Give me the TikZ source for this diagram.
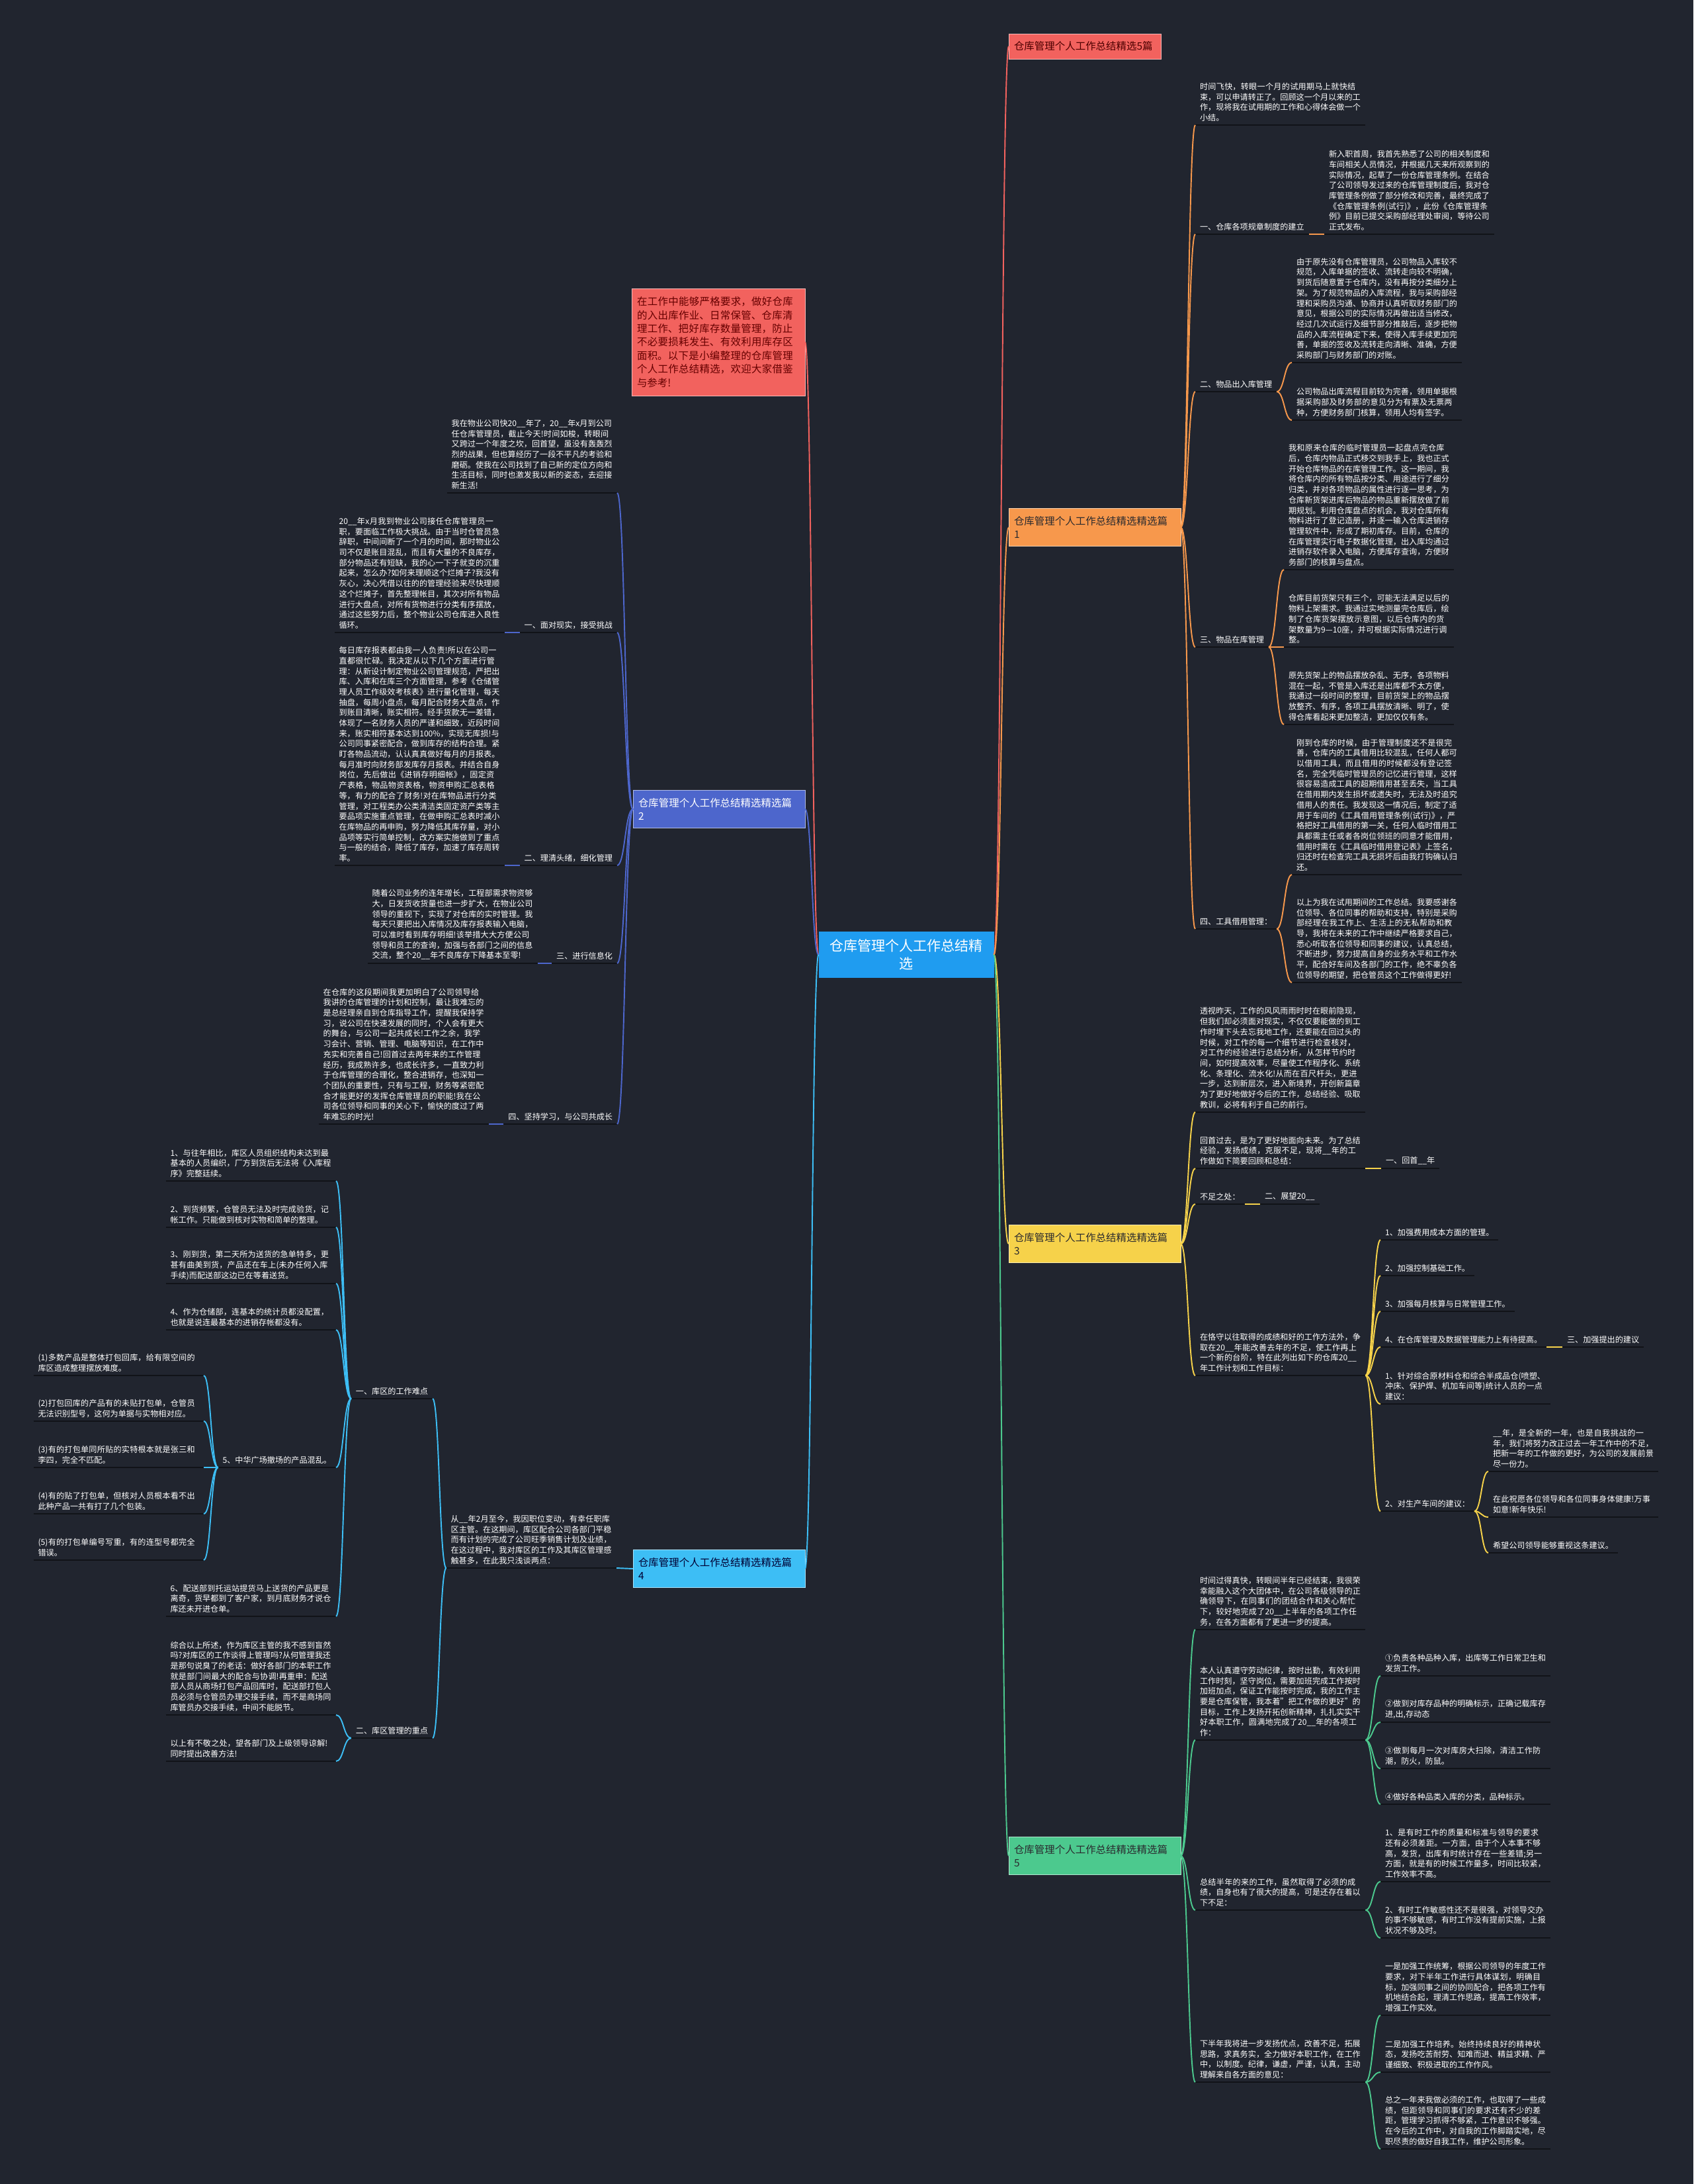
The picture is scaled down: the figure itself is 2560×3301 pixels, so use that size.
\documentclass[tikz,border=0pt]{standalone}
\usepackage{fontspec}
\setmainfont{Noto Sans CJK SC}
\usetikzlibrary{calc}
\XeTeXlinebreaklocale "zh"
\XeTeXlinebreakskip=0pt plus 0.5pt

\definecolor{bgc}{HTML}{21252F}
\definecolor{ulc}{HTML}{111318}
\definecolor{cred}{HTML}{F2625E}
\definecolor{corange}{HTML}{F7984C}
\definecolor{cyellow}{HTML}{F6D24A}
\definecolor{cgreen}{HTML}{4CC98E}
\definecolor{cindigo}{HTML}{4D66CC}
\definecolor{csky}{HTML}{3DBEF5}
\definecolor{croot}{HTML}{1F9CF0}
\definecolor{darktxt}{HTML}{2A2A2E}

\newcommand{\mmbody}{\fontsize{6.9}{8.93}\selectfont}
\newcommand{\mmtopic}{\fontsize{8.8}{11.6}\selectfont}
\newcommand{\mmroot}{\fontsize{12}{15}\selectfont}

\begin{document}
\begin{tikzpicture}[x=0.2mm,y=-0.2mm,
  txt/.style={font=\mmbody,text=white,align=left,inner xsep=1.4mm,inner ysep=1.1mm,outer sep=0pt},
  blk/.style={txt,text width=138.5pt},
  rt/.style={anchor=south west},
  lt/.style={anchor=south east},
  topic/.style={font=\mmtopic,align=left,inner xsep=1.6mm,text width=48.8mm,minimum height=11.4mm,
    outer sep=0pt,fill=#1,draw=white!55!#1,line width=0.4pt,text=darktxt},
  link/.style={line width=1.1pt,to path={.. controls ($(\tikztostart)!0.5!(\tikztotarget|-\tikztostart)$)
    and ($(\tikztotarget)!0.5!(\tikztostart|-\tikztotarget)$) .. (\tikztotarget)}},
  uline/.style={line width=1.1pt,ulc}]
\useasboundingbox (0,0) rectangle (2560,3301);
\fill[bgc] (0,0) rectangle (2560,3301);

% centre and main topics
\node[fill=croot,text=white,font=\mmroot,align=center,minimum width=53mm,minimum height=14mm,outer sep=0pt]
  (root) at (1370,1443) {仓库管理个人工作总结精\\选};
\node[topic=cred,anchor=west,text width=42.8mm,minimum height=7.6mm,text=red!30!black] (b0) at (1525,70) {仓库管理个人工作总结精选5篇};
\node[topic=corange,anchor=west] (b1) at (1525,797) {仓库管理个人工作总结精选精选篇\\1};
\node[topic=cyellow,anchor=west] (b3) at (1525,1880) {仓库管理个人工作总结精选精选篇\\3};
\node[topic=cgreen,anchor=west] (b5) at (1525,2805) {仓库管理个人工作总结精选精选篇\\5};
\node[topic=cred,anchor=east,text width=49.2mm,minimum height=32.4mm,text=red!40!black] (intro) at (1217,517)
  {在工作中能够严格要求，做好仓库的入出库作业、日常保管、仓库清理工作、把好库存数量管理，防止不必要损耗发生、有效利用库存区面积。以下是小编整理的仓库管理个人工作总结精选，欢迎大家借鉴与参考!};
\node[topic=cindigo,anchor=east,text=white] (b2) at (1217,1223) {仓库管理个人工作总结精选精选篇\\2};
\node[topic=csky,anchor=east,text=blue!20!black] (b4) at (1217,2371) {仓库管理个人工作总结精选精选篇\\4};

% branch 1
\begin{scope}
\node[blk,rt] (r1a) at (1807,189) {时间飞快，转眼一个月的试用期马上就快结束，可以申请转正了。回顾这一个月以来的工作，现将我在试用期的工作和心得体会做一个小结。};
\node[txt,rt] (r1b) at (1807,354) {一、仓库各项规章制度的建立};
\node[blk,rt] (r1b1) at (2002,354) {新入职首周，我首先熟悉了公司的相关制度和车间相关人员情况，并根据几天来所观察到的实际情况，起草了一份仓库管理条例。在结合了公司领导发过来的仓库管理制度后，我对仓库管理条例做了部分修改和完善，最终完成了《仓库管理条例(试行)》，此份《仓库管理条例》目前已提交采购部经理处审阅，等待公司正式发布。};
\node[txt,rt] (r1c) at (1807,592) {二、物品出入库管理};
\node[blk,rt] (r1c1) at (1953,548) {由于原先没有仓库管理员，公司物品入库较不规范，入库单据的签收、流转走向较不明确，到货后随意置于仓库内，没有再按分类细分上架。为了规范物品的入库流程，我与采购部经理和采购员沟通、协商并认真听取财务部门的意见，根据公司的实际情况再做出适当修改，经过几次试运行及细节部分推敲后，逐步把物品的入库流程确定下来，使得入库手续更加完善，单据的签收及流转走向清晰、准确，方便采购部门与财务部门的对账。};
\node[blk,rt] (r1c2) at (1953,635) {公司物品出库流程目前较为完善，领用单据根据采购部及财务部的意见分为有票及无票两种，方便财务部门核算，领用人均有签字。};
\node[txt,rt] (r1d) at (1807,978) {三、物品在库管理};
\node[blk,rt] (r1d1) at (1941,861) {我和原来仓库的临时管理员一起盘点完仓库后，仓库内物品正式移交到我手上，我也正式开始仓库物品的在库管理工作。这一期间，我将仓库内的所有物品按分类、用途进行了细分归类，并对各项物品的属性进行逐一思考，为仓库新货架进库后物品的物品重新摆放做了前期规划。利用仓库盘点的机会，我对仓库所有物料进行了登记造册，并逐一输入仓库进销存管理软件中，形成了期初库存。目前，仓库的在库管理实行电子数据化管理，出入库均通过进销存软件录入电脑，方便库存查询，方便财务部门的核算与盘点。};
\node[blk,rt] (r1d2) at (1941,978) {仓库目前货架只有三个，可能无法满足以后的物料上架需求。我通过实地测量完仓库后，绘制了仓库货架摆放示意图，以后仓库内的货架数量为9—10座，并可根据实际情况进行调整。};
\node[blk,rt] (r1d3) at (1941,1095) {原先货架上的物品摆放杂乱、无序，各项物料混在一起，不管是入库还是出库都不太方便，我通过一段时间的整理，目前货架上的物品摆放整齐、有序，各项工具摆放清晰、明了，使得仓库看起来更加整洁，更加仅仅有条。};
\node[txt,rt] (r1e) at (1807,1404) {四、工具借用管理：};
\node[blk,rt] (r1e1) at (1953,1322) {刚到仓库的时候，由于管理制度还不是很完善，仓库内的工具借用比较混乱，任何人都可以借用工具，而且借用的时候都没有登记签名，完全凭临时管理员的记忆进行管理，这样很容易造成工具的超期借用甚至丢失，当工具在借用期内发生损坏或遗失时，无法及时追究借用人的责任。我发现这一情况后，制定了适用于车间的《工具借用管理条例(试行)》，严格把好工具借用的第一关，任何人临时借用工具都需主任或者各岗位领班的同意才能借用，借用时需在《工具临时借用登记表》上签名，归还时在检查完工具无损坏后由我打钩确认归还。};
\node[blk,rt] (r1e2) at (1953,1485) {以上为我在试用期间的工作总结。我要感谢各位领导、各位同事的帮助和支持，特别是采购部经理在我工作上、生活上的无私帮助和教导，我将在未来的工作中继续严格要求自己，悉心听取各位领导和同事的建议，认真总结，不断进步，努力提高自身的业务水平和工作水平，配合好车间及各部门的工作，绝不辜负各位领导的期望，把仓管员这个工作做得更好!};
\end{scope}

% branch 3
\begin{scope}
\node[blk,rt] (r3a) at (1807,1681) {透视昨天，工作的风风雨雨时时在眼前隐现，但我们却必须面对现实，不仅仅要能做的到工作时埋下头去忘我地工作，还要能在回过头的时候，对工作的每一个细节进行检查核对，对工作的经验进行总结分析，从怎样节约时间，如何提高效率，尽量使工作程序化、系统化、条理化、流水化!从而在百尺杆头，更进一步，达到新层次，进入新境界，开创新篇章为了更好地做好今后的工作，总结经验、吸取教训，必将有利于自己的前行。};
\node[blk,rt] (r3b) at (1807,1766) {回首过去，是为了更好地面向未来。为了总结经验，发扬成绩，克服不足，现将\_\_年的工作做如下简要回顾和总结：};
\node[txt,rt] (r3b1) at (2088,1766) {一、回首\_\_年};
\node[txt,rt] (r3c) at (1807,1820) {不足之处：};
\node[txt,rt] (r3c1) at (1905,1820) {二、展望20\_\_};
\node[blk,rt] (r3d) at (1807,2079) {在恪守以往取得的成绩和好的工作方法外，争取在20\_\_年能改善去年的不足，使工作再上一个新的台阶，特在此列出如下的仓库20\_\_年工作计划和工作目标：};
\node[txt,rt] (r3d1) at (2087,1874) {1、加强费用成本方面的管理。};
\node[txt,rt] (r3d2) at (2087,1928) {2、加强控制基础工作。};
\node[txt,rt] (r3d3) at (2087,1982) {3、加强每月核算与日常管理工作。};
\node[txt,rt] (r3d4) at (2087,2036) {4、在仓库管理及数据管理能力上有待提高。};
\node[txt,rt] (r3d7) at (2362,2036) {三、加强提出的建议};
\node[blk,rt] (r3d5) at (2087,2122) {1、针对综合原材料仓和综合半成品仓(喷塑、冲床、保护焊、机加车间等)统计人员的一点建议：};
\node[txt,rt] (r3d6) at (2087,2284) {2、对生产车间的建议：};
\node[blk,rt] (r3f1) at (2250,2224) {\_\_年，是全新的一年，也是自我挑战的一年，我们将努力改正过去一年工作中的不足，把新一年的工作做的更好，为公司的发展前景尽一份力。};
\node[blk,rt] (r3f2) at (2250,2293) {在此祝愿各位领导和各位同事身体健康!万事如意!新年快乐!};
\node[txt,rt] (r3f3) at (2250,2347) {希望公司领导能够重视这条建议。};
\end{scope}

% branch 5
\begin{scope}
\node[blk,rt] (r5a) at (1807,2463) {时间过得真快，转眼间半年已经结束，我很荣幸能融入这个大团体中，在公司各级领导的正确领导下，在同事们的团结合作和关心帮忙下，较好地完成了20\_\_上半年的各项工作任务，在各方面都有了更进一步的提高。};
\node[blk,rt] (r5b) at (1807,2630) {本人认真遵守劳动纪律，按时出勤，有效利用工作时刻，坚守岗位，需要加班完成工作按时加班加点，保证工作能按时完成，我的工作主要是仓库保管，我本着"把工作做的更好"的目标，工作上发扬开拓创新精神，扎扎实实干好本职工作，圆满地完成了20\_\_年的各项工作：};
\node[blk,rt] (r5b1) at (2087,2533) {①负责各种品种入库，出库等工作日常卫生和发货工作。};
\node[blk,rt] (r5b2) at (2087,2603) {②做到对库存品种的明确标示，正确记载库存进,出,存动态};
\node[blk,rt] (r5b3) at (2087,2673) {③做到每月一次对库房大扫除，清洁工作防潮，防火，防鼠。};
\node[blk,rt] (r5b4) at (2087,2727) {④做好各种品类入库的分类，品种标示。};
\node[blk,rt] (r5c) at (1807,2887) {总结半年的来的工作，虽然取得了必须的成绩，自身也有了很大的提高，可是还存在着以下不足：};
\node[blk,rt] (r5c1) at (2087,2844) {1、是有时工作的质量和标准与领导的要求还有必须差距。一方面，由于个人本事不够高，发货，出库有时统计存在一些差错;另一方面，就是有的时候工作量多，时间比较紧，工作效率不高。};
\node[blk,rt] (r5c2) at (2087,2929) {2、有时工作敏感性还不是很强，对领导交办的事不够敏感，有时工作没有提前实施，上报状况不够及时。};
\node[blk,rt] (r5d) at (1807,3147) {下半年我将进一步发扬优点，改善不足，拓展思路，求真务实，全力做好本职工作，在工作中，以制度。纪律，谦虚，严谨，认真，主动理解来自各方面的意见：};
\node[blk,rt] (r5d1) at (2087,3046) {一是加强工作统筹，根据公司领导的年度工作要求，对下半年工作进行具体谋划，明确目标，加强同事之间的协同配合，把各项工作有机地结合起，理清工作思路，提高工作效率，增强工作实效。};
\node[blk,rt] (r5d2) at (2087,3132) {二是加强工作培养。始终持续良好的精神状态，发扬吃苦耐劳、知难而进、精益求精、严谨细致、积极进取的工作作风。};
\node[blk,rt] (r5d3) at (2087,3248) {总之一年来我做必须的工作，也取得了一些成绩，但距领导和同事们的要求还有不少的差距，管理学习抓得不够紧，工作意识不够强。在今后的工作中，对自我的工作脚踏实地，尽职尽责的做好自我工作，维护公司形象。};
\end{scope}

% branch 2
\begin{scope}
\node[blk,lt] (l2a) at (933,745) {我在物业公司快20\_\_年了，20\_\_年x月到公司任仓库管理员，截止今天!时间如梭，转眼间又跨过一个年度之坎，回首望，虽没有轰轰烈烈的战果，但也算经历了一段不平凡的考验和磨砺。使我在公司找到了自己新的定位方向和生活目标，同时也激发我以新的姿态，去迎接新生活!};
\node[txt,lt] (l2b) at (933,956) {一、面对现实，接受挑战};
\node[blk,lt] (l2b1) at (763,956) {20\_\_年x月我到物业公司接任仓库管理员一职，要面临工作极大挑战。由于当时仓管员急辞职，中间间断了一个月的时间，那时物业公司不仅是账目混乱，而且有大量的不良库存，部分物品还有短缺，我的心一下子就变的沉重起来，怎么办?如何来理顺这个烂摊子?我没有灰心，决心凭借以往的的管理经验来尽快理顺这个烂摊子，首先整理帐目，其次对所有物品进行大盘点，对所有货物进行分类有序摆放，通过这些努力后，整个物业公司仓库进入良性循环。};
\node[txt,lt] (l2c) at (933,1308) {二、理清头绪，细化管理};
\node[blk,lt] (l2c1) at (763,1308) {每日库存报表都由我一人负责!所以在公司一直都很忙碌。我决定从以下几个方面进行管理：从新设计制定物业公司管理规范，严把出库、入库和在库三个方面管理，参考《仓储管理人员工作级效考核表》进行量化管理，每天抽盘，每周小盘点，每月配合财务大盘点，作到账目清晰，账实相符。经手货款无一差错，体现了一名财务人员的严谨和细致，近段时间来，账实相符基本达到100\%，实现无库损!与公司同事紧密配合，做到库存的结构合理。紧盯各物品流动，认认真真做好每月的月报表。每月准时向财务部发库存月报表。并结合自身岗位，先后做出《进销存明细帐》，固定资产表格，物品物资表格，物资申购汇总表格等，有力的配合了财务!对在库物品进行分类管理，对工程类办公类清洁类固定资产类等主要品项实施重点管理，在做申购汇总表时减小在库物品的再申购，努力降低其库存量，对小品项等实行简单控制，改方案实施做到了重点与一般的结合，降低了库存，加速了库存周转率。};
\node[txt,lt] (l2d) at (933,1456) {三、进行信息化};
\node[blk,lt] (l2d1) at (813,1456) {随着公司业务的连年增长，工程部需求物资够大，日发货收货量也进一步扩大，在物业公司领导的重视下，实现了对仓库的实时管理。我每天只要把出入库情况及库存报表输入电脑，可以准时看到库存明细!该举措大大方便公司领导和员工的查询，加强与各部门之间的信息交流，整个20\_\_年不良库存下降基本至零!};
\node[txt,lt] (l2e) at (933,1699) {四、坚持学习，与公司共成长};
\node[blk,lt] (l2e1) at (739,1699) {在仓库的这段期间我更加明白了公司领导给我讲的仓库管理的计划和控制，最让我难忘的是总经理亲自到仓库指导工作，提醒我保持学习，说公司在快速发展的同时，个人会有更大的舞台，与公司一起共成长!工作之余，我学习会计、营销、管理、电脑等知识，在工作中充实和完善自己!回首过去两年来的工作管理经历，我成熟许多，也成长许多，一直致力利于仓库管理的合理化，整合进销存，也深知一个团队的重要性，只有与工程，财务等紧密配合才能更好的发挥仓库管理员的职能!我在公司各位领导和同事的关心下，愉快的度过了两年难忘的时光!};
\end{scope}

% branch 4
\begin{scope}
\node[blk,lt] (l4a) at (932,2370) {从\_\_年2月至今，我因职位变动，有幸任职库区主管。在这期间，库区配合公司各部门平稳而有计划的完成了公司旺季销售计划及业绩，在这过程中，我对库区的工作及其库区管理感触甚多，在此我只浅谈两点：};
\node[txt,lt] (l4a1) at (654,2114) {一、库区的工作难点};
\node[blk,lt] (l4p1) at (508,1785) {1、与往年相比，库区人员组织结构未达到最基本的人员编织，厂方到货后无法将《入库程序》完整廷续。};
\node[blk,lt] (l4p2) at (508,1855) {2、到货频繁，仓管员无法及时完成验货，记帐工作。只能做到核对实物和简单的整理。};
\node[blk,lt] (l4p3) at (508,1940) {3、刚到货，第二天所为送货的急单特多，更甚有曲美到货，产品还在车上(未办任何入库手续)而配送部这边已在等着送货。};
\node[blk,lt] (l4p4) at (508,2010) {4、作为仓储部，连基本的统计员都没配置，也就是说连最基本的进销存帐都没有。};
\node[txt,lt] (l4p5) at (508,2218) {5、中华广场撤场的产品混乱。};
\node[blk,lt] (l4q1) at (308,2079) {(1)多数产品是整体打包回库，给有限空间的库区造成整理摆放难度。};
\node[blk,lt] (l4q2) at (308,2148) {(2)打包回库的产品有的未贴打包单，仓管员无法识别型号，这何为单据与实物相对应。};
\node[blk,lt] (l4q3) at (308,2218) {(3)有的打包单同所贴的实特根本就是张三和李四，完全不匹配。};
\node[blk,lt] (l4q4) at (308,2288) {(4)有的贴了打包单，但核对人员根本看不出此种产品一共有打了几个包装。};
\node[blk,lt] (l4q5) at (308,2358) {(5)有的打包单编号写重，有的连型号都完全错误。};
\node[blk,lt] (l4p6) at (508,2443) {6、配送部到托运站提货马上送货的产品更是离奇，货早都到了客户家，到月底财务才说仓库还未开进仓单。};
\node[txt,lt] (l4a2) at (654,2627) {二、库区管理的重点};
\node[blk,lt] (l4r1) at (508,2592) {综合以上所述，作为库区主管的我不感到盲然吗?对库区的工作谈得上管理吗?从何管理我还是那句说臭了的老话：做好各部门的本职工作就是部门间最大的配合与协调!再重申：配送部人员从商场打包产品回库时，配送部打包人员必须与仓管员办理交接手续，而不是商场同库管员办交接手续，中间不能脱节。};
\node[blk,lt] (l4r2) at (508,2662) {以上有不敬之处，望各部门及上级领导谅解!同时提出改善方法!};
\end{scope}

% underlines
\foreach \n in {r1a,r1b,r1b1,r1c,r1c1,r1c2,r1d,r1d1,r1d2,r1d3,r1e,r1e1,r1e2,
  r3a,r3b,r3b1,r3c,r3c1,r3d,r3d1,r3d2,r3d3,r3d4,r3d5,r3d6,r3d7,r3f1,r3f2,r3f3,
  r5a,r5b,r5b1,r5b2,r5b3,r5b4,r5c,r5c1,r5c2,r5d,r5d1,r5d2,r5d3,
  l2a,l2b,l2b1,l2c,l2c1,l2d,l2d1,l2e,l2e1,
  l4a,l4a1,l4a2,l4p1,l4p2,l4p3,l4p4,l4p5,l4p6,l4q1,l4q2,l4q3,l4q4,l4q5,l4r1,l4r2}
  \draw[uline] (\n.south west) -- (\n.south east);

% connectors
\draw[link,cred] (root.east) to (b0.west);
\draw[link,corange] (root.east) to (b1.west);
\draw[link,cyellow] (root.east) to (b3.west);
\draw[link,cgreen] (root.east) to (b5.west);
\draw[link,cred] (root.west) to (intro.east);
\draw[link,cindigo] (root.west) to (b2.east);
\draw[link,csky] (root.west) to (b4.east);

\foreach \n in {r1a,r1b,r1c,r1d,r1e} \draw[link,corange] (b1.east) to (\n.south west);
\draw[link,corange] (r1b.south east) to (r1b1.south west);
\foreach \n in {r1c1,r1c2} \draw[link,corange] (r1c.south east) to (\n.south west);
\foreach \n in {r1d1,r1d2,r1d3} \draw[link,corange] (r1d.south east) to (\n.south west);
\foreach \n in {r1e1,r1e2} \draw[link,corange] (r1e.south east) to (\n.south west);

\foreach \n in {r3a,r3b,r3c,r3d} \draw[link,cyellow] (b3.east) to (\n.south west);
\draw[link,cyellow] (r3b.south east) to (r3b1.south west);
\draw[link,cyellow] (r3c.south east) to (r3c1.south west);
\foreach \n in {r3d1,r3d2,r3d3,r3d4,r3d5,r3d6} \draw[link,cyellow] (r3d.south east) to (\n.south west);
\draw[link,cyellow] (r3d4.south east) to (r3d7.south west);
\foreach \n in {r3f1,r3f2,r3f3} \draw[link,cyellow] (r3d6.south east) to (\n.south west);

\foreach \n in {r5a,r5b,r5c,r5d} \draw[link,cgreen] (b5.east) to (\n.south west);
\foreach \n in {r5b1,r5b2,r5b3,r5b4} \draw[link,cgreen] (r5b.south east) to (\n.south west);
\foreach \n in {r5c1,r5c2} \draw[link,cgreen] (r5c.south east) to (\n.south west);
\foreach \n in {r5d1,r5d2,r5d3} \draw[link,cgreen] (r5d.south east) to (\n.south west);

\foreach \n in {l2a,l2b,l2c,l2d,l2e} \draw[link,cindigo] (b2.west) to (\n.south east);
\draw[link,cindigo] (l2b.south west) to (l2b1.south east);
\draw[link,cindigo] (l2c.south west) to (l2c1.south east);
\draw[link,cindigo] (l2d.south west) to (l2d1.south east);
\draw[link,cindigo] (l2e.south west) to (l2e1.south east);

\draw[link,csky] (b4.west) to (l4a.south east);
\foreach \n in {l4a1,l4a2} \draw[link,csky] (l4a.south west) to (\n.south east);
\foreach \n in {l4p1,l4p2,l4p3,l4p4,l4p5,l4p6} \draw[link,csky] (l4a1.south west) to (\n.south east);
\foreach \n in {l4q1,l4q2,l4q3,l4q4,l4q5} \draw[link,csky] (l4p5.south west) to (\n.south east);
\foreach \n in {l4r1,l4r2} \draw[link,csky] (l4a2.south west) to (\n.south east);
\end{tikzpicture}
\end{document}
